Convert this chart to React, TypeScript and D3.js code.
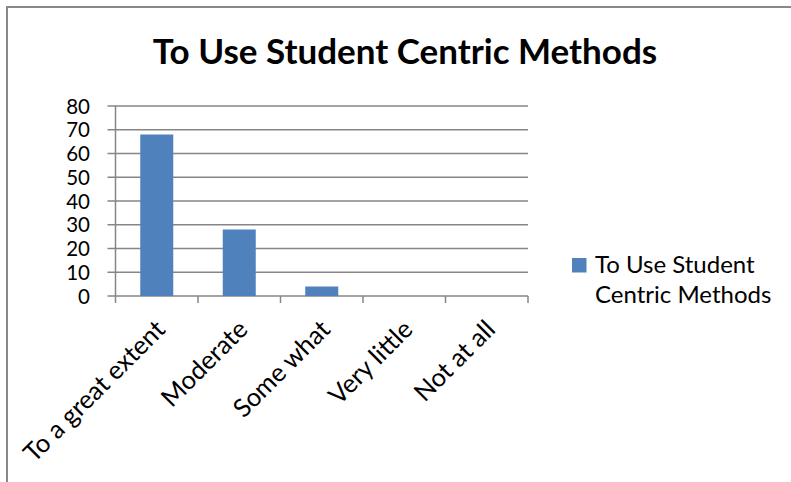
import React from "react";
import * as d3 from "d3";

const categories = ["To a great extent", "Moderate", "Some what", "Very little", "Not at all"];
const values = [68, 28, 4, 0, 0];
const yTicks = [0, 10, 20, 30, 40, 50, 60, 70, 80];
const title = "To Use Student Centric Methods";
const seriesName = ["To Use Student", "Centric Methods"];

const W = 791;
const H = 482;
const plot = { left: 115.5, right: 528, top: 106, bottom: 296 };
const font = "Lato, 'Open Sans', sans-serif";

export default function App() {
  const x = d3.scaleBand<string>().domain(categories).range([plot.left, plot.right]).paddingInner(0.6).paddingOuter(0.3);
  const xOuter = d3.scaleBand<string>().domain(categories).range([plot.left, plot.right]);
  const y = d3.scaleLinear().domain([0, 80]).range([plot.bottom, plot.top]);
  const grid = "#868686";
  const tickEdges = [...categories.map((c) => xOuter(c) as number), plot.right];
  return (
    <svg width={W} height={H} style={{ position: "absolute", left: 0, top: 0, display: "block" }}>
      <rect x={0} y={0} width={W} height={H} fill="#fff" />
      <path d={`M7,${H} V7 H${W}`} fill="none" stroke="#888" strokeWidth={2} />
      <text x={405} y={64} textAnchor="middle" fontFamily={font} fontWeight="bold" fontSize={35} fill="#000">
        {title}
      </text>
      {yTicks.map((t) => (
        <g key={t}>
          <line x1={plot.left - 8} x2={plot.right} y1={y(t)} y2={y(t)} stroke={grid} strokeWidth={1.5} />
          <text x={90} y={y(t) + 7.5} textAnchor="end" fontFamily={font} fontSize={20.5} fill="#000">
            {t}
          </text>
        </g>
      ))}
      <line x1={plot.left} x2={plot.left} y1={plot.top} y2={plot.bottom} stroke={grid} strokeWidth={1.5} />
      {tickEdges.map((e, i) => (
        <line key={i} x1={e} x2={e} y1={plot.bottom} y2={plot.bottom + 7} stroke={grid} strokeWidth={1.5} />
      ))}
      {categories.map((c, i) => (
        <rect
          key={c}
          x={x(c)}
          y={y(values[i])}
          width={x.bandwidth()}
          height={plot.bottom - y(values[i])}
          fill="#4F81BD"
        />
      ))}
      {categories.map((c) => {
        const cx = (xOuter(c) as number) + xOuter.bandwidth() / 2 + 10;
        const cy = plot.bottom + 35;
        return (
          <text
            key={c}
            x={cx}
            y={cy}
            textAnchor="end"
            transform={`rotate(-45 ${cx} ${cy})`}
            fontFamily={font}
            fontSize={25.5}
            fill="#000"
          >
            {c}
          </text>
        );
      })}
      <rect x={572} y={258} width={14.5} height={14.5} fill="#4F81BD" />
      <text x={595} y={273} fontFamily={font} fontSize={24} fill="#000">
        {seriesName[0]}
      </text>
      <text x={595} y={303} fontFamily={font} fontSize={24} fill="#000">
        {seriesName[1]}
      </text>
    </svg>
  );
}
